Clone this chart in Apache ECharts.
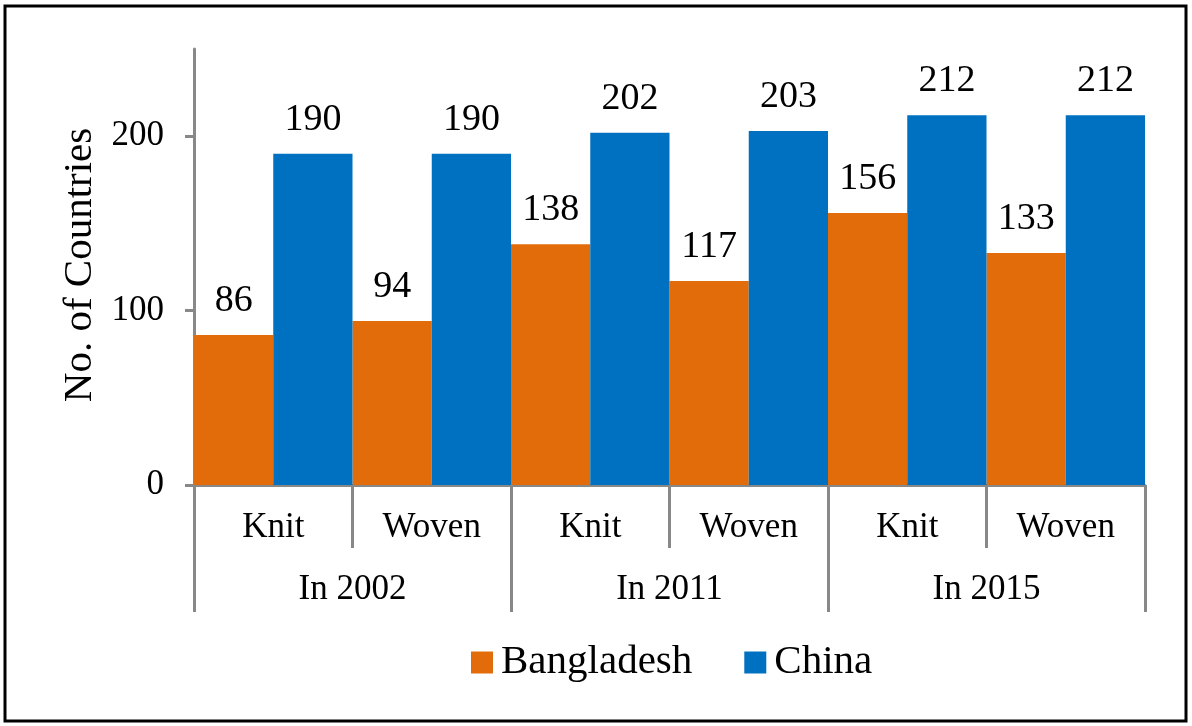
<!DOCTYPE html>
<html>
<head>
<meta charset="utf-8">
<script src="https://cdn.jsdelivr.net/npm/echarts@6/dist/echarts.min.js"></script>
<style>
  html, body { margin: 0; padding: 0; background: #fff; }
  #chart { width: 1192px; height: 726px; }
</style>
</head>
<body>
<div id="chart"></div>
<script>
// Export destinations per product type and year
const products = ['Knit', 'Woven', 'Knit', 'Woven', 'Knit', 'Woven'];
const years = ['In 2002', 'In 2011', 'In 2015'];
const bangladesh = [86, 94, 138, 117, 156, 133];
const china = [190, 190, 202, 203, 212, 212];
const yTicks = [0, 100, 200];

const FONT = '"Liberation Serif", "Times New Roman", serif';
const AXIS_GRAY = '#888888';

const chart = echarts.init(document.getElementById('chart'), null, { renderer: 'canvas' });

const labelStyle = {
  show: true,
  position: 'top',
  distance: 15,
  fontFamily: FONT,
  fontSize: 38,
  color: '#000'
};

chart.setOption({
  animation: false,
  backgroundColor: '#fff',
  textStyle: { fontFamily: FONT },
  grid: { left: 194, right: 47, top: 49, bottom: 241, containLabel: false },
  legend: {
    data: ['Bangladesh', 'China'],
    left: 466,
    top: 637,
    itemWidth: 22,
    itemHeight: 22,
    itemGap: 52,
    icon: 'rect',
    textStyle: { fontFamily: FONT, fontSize: 41, color: '#000', padding: [0, 0, 0, 3] }
  },
  xAxis: [
    {
      type: 'category',
      data: products,
      position: 'bottom',
      axisLine: { show: true, lineStyle: { color: AXIS_GRAY, width: 3 } },
      axisTick: { show: true, length: 63, lineStyle: { color: AXIS_GRAY, width: 3 } },
      axisLabel: { margin: 25, fontFamily: FONT, fontSize: 35, color: '#000' }
    },
    {
      type: 'category',
      data: years,
      position: 'bottom',
      axisLine: { show: false },
      axisTick: { show: true, length: 127, lineStyle: { color: AXIS_GRAY, width: 3 } },
      axisLabel: { margin: 87, fontFamily: FONT, fontSize: 35, color: '#000' }
    }
  ],
  yAxis: {
    type: 'value',
    min: 0,
    max: 250,
    interval: 50,
    axisLine: { show: true, lineStyle: { color: AXIS_GRAY, width: 3 } },
    axisTick: { show: true, length: 9, customValues: yTicks, lineStyle: { color: AXIS_GRAY, width: 3 } },
    axisLabel: { customValues: yTicks, margin: 30, fontFamily: FONT, fontSize: 35, color: '#000' },
    splitLine: { show: false }
  },
  series: [
    {
      name: 'Bangladesh',
      type: 'bar',
      data: bangladesh,
      barGap: '0%',
      barCategoryGap: '0%',
      itemStyle: { color: '#E36C0A' },
      label: labelStyle
    },
    {
      name: 'China',
      type: 'bar',
      data: china,
      barGap: '0%',
      barCategoryGap: '0%',
      itemStyle: { color: '#0070C0' },
      label: labelStyle
    }
  ],
  graphic: [
    {
      type: 'text',
      x: 80,
      y: 265,
      rotation: Math.PI / 2,
      style: {
        text: 'No. of Countries',
        fontFamily: FONT,
        fontSize: 41,
        fill: '#000',
        align: 'center',
        verticalAlign: 'middle'
      }
    },
    {
      type: 'rect',
      shape: { x: 5, y: 6, width: 1181, height: 715 },
      style: { fill: 'none', stroke: '#000', lineWidth: 3 },
      silent: true
    }
  ]
});
</script>
</body>
</html>
